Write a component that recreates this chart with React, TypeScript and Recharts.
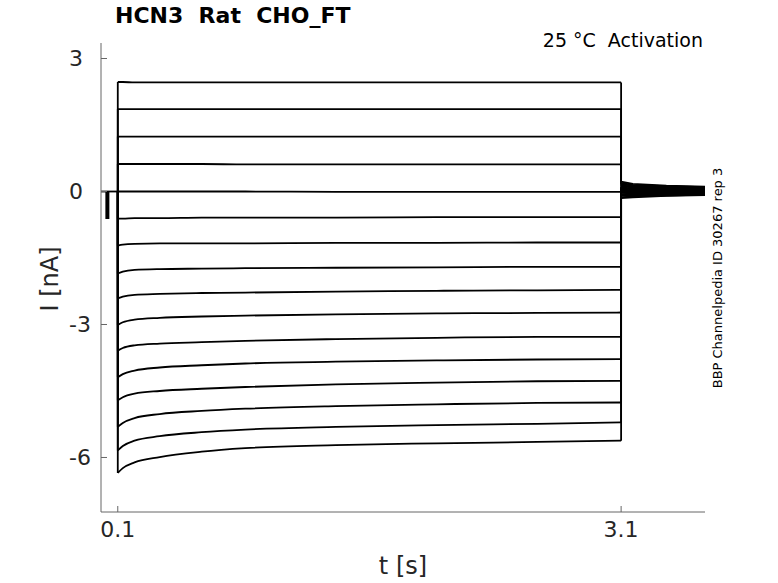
import { LineChart, Line, XAxis, YAxis } from 'recharts';

// time points (s) read along the voltage step, and along the tail after it
const stepTimes = [0.1, 0.13, 0.2, 0.35, 0.6, 0.86, 1.4, 2.0, 2.6, 3.1];
const tailTimes = [3.1, 3.17, 3.37, 3.6];

// current (nA) of each sweep during the step, top sweep first
const stepCurrents = [
  [2.47, 2.47, 2.46, 2.46, 2.46, 2.46, 2.46, 2.46, 2.46, 2.46],
  [1.86, 1.86, 1.86, 1.86, 1.86, 1.86, 1.86, 1.86, 1.86, 1.86],
  [1.24, 1.24, 1.24, 1.24, 1.24, 1.24, 1.24, 1.24, 1.24, 1.24],
  [0.62, 0.62, 0.62, 0.62, 0.62, 0.61, 0.61, 0.61, 0.61, 0.61],
  [0.0, 0.0, 0.0, 0.0, 0.0, 0.0, -0.01, -0.01, -0.01, -0.01],
  [-0.61, -0.61, -0.6, -0.6, -0.59, -0.59, -0.59, -0.58, -0.58, -0.58],
  [-1.22, -1.2, -1.18, -1.17, -1.17, -1.17, -1.16, -1.16, -1.15, -1.15],
  [-1.85, -1.81, -1.77, -1.75, -1.74, -1.73, -1.72, -1.71, -1.7, -1.7],
  [-2.41, -2.37, -2.33, -2.31, -2.29, -2.28, -2.26, -2.24, -2.23, -2.22],
  [-3.01, -2.95, -2.89, -2.85, -2.82, -2.8, -2.77, -2.75, -2.74, -2.73],
  [-3.59, -3.53, -3.47, -3.43, -3.4, -3.37, -3.33, -3.3, -3.28, -3.28],
  [-4.19, -4.12, -4.04, -3.97, -3.92, -3.88, -3.84, -3.81, -3.79, -3.78],
  [-4.71, -4.64, -4.56, -4.5, -4.45, -4.41, -4.35, -4.31, -4.28, -4.27],
  [-5.31, -5.22, -5.11, -5.02, -4.95, -4.9, -4.84, -4.8, -4.77, -4.76],
  [-5.84, -5.74, -5.62, -5.52, -5.43, -5.37, -5.31, -5.27, -5.24, -5.21],
  [-6.35, -6.24, -6.11, -5.99, -5.87, -5.79, -5.72, -5.68, -5.65, -5.62],
];

// tail current (nA) of each sweep back at holding potential
const tailCurrents = [
  [0.22, 0.17, 0.13, 0.11],
  [0.19, 0.15, 0.12, 0.1],
  [0.17, 0.13, 0.1, 0.08],
  [0.14, 0.11, 0.08, 0.07],
  [0.12, 0.09, 0.07, 0.05],
  [0.09, 0.07, 0.05, 0.04],
  [0.07, 0.05, 0.03, 0.02],
  [0.04, 0.03, 0.02, 0.01],
  [0.02, 0.01, 0.0, 0.0],
  [-0.01, -0.01, -0.01, -0.01],
  [-0.03, -0.03, -0.02, -0.02],
  [-0.06, -0.05, -0.04, -0.03],
  [-0.08, -0.07, -0.05, -0.04],
  [-0.1, -0.09, -0.07, -0.05],
  [-0.13, -0.11, -0.09, -0.07],
  [-0.15, -0.13, -0.1, -0.08],
];

// holding before the step, and the capacitive spike
const holdingTimes = [0, 0.1];
const holdingCurrents = [0, 0];
const spikeTimes = [0.038, 0.038];
const spikeCurrents = [0, -0.62];

const xTicks = [0.1, 3.1];
const yTicks = [3, 0, -3, -6];

const font = 'DejaVu Sans, sans-serif';
const xTickStyle = { fontSize: 22, fill: '#262626', fontFamily: font };
const yTickStyle = { fontSize: 22, fill: '#262626', fontFamily: font, textAnchor: 'start' };

const stepData = stepCurrents.map((step) => stepTimes.map((t, k) => ({ t, i: step[k] })));
// vertical edges at step onset (from holding) and at step end (into tail)
const onsetData = stepCurrents.map((step) => [{ t: stepTimes[0], i: 0 }, { t: stepTimes[0], i: step[0] }]);
const tailData = stepCurrents.map((step, s) => [
  { t: tailTimes[0], i: step[step.length - 1] },
  ...tailTimes.map((t, k) => ({ t, i: tailCurrents[s][k] })),
]);
const holding = holdingTimes.map((t, k) => ({ t, i: holdingCurrents[k] }));
const spike = spikeTimes.map((t, k) => ({ t, i: spikeCurrents[k] }));

const App = () => {
  return (
    <div style={{ position: 'absolute', left: 0, top: 0, width: 778, height: 583, background: '#fff' }}>
      <LineChart width={778} height={583} margin={{ top: 43, right: 73, bottom: 70, left: 100 }}>
        <XAxis
          dataKey="t"
          type="number"
          domain={[0, 3.6]}
          ticks={xTicks}
          height={1}
          tickSize={-6}
          tickMargin={15}
          stroke="#666"
          tick={xTickStyle}
          allowDataOverflow
        />
        <YAxis
          dataKey="i"
          type="number"
          domain={[-7.23, 3.35]}
          ticks={yTicks}
          width={1}
          tickSize={-6}
          tickMargin={38}
          stroke="#666"
          tick={yTickStyle}
          allowDataOverflow
        />
        <Line data={holding} dataKey="i" stroke="#000" strokeWidth={1.8} dot={false} isAnimationActive={false} />
        <Line data={spike} dataKey="i" stroke="#000" strokeWidth={4} dot={false} isAnimationActive={false} />
        {onsetData.map((d, s) => (
          <Line key={'o' + s} data={d} dataKey="i" stroke="#000" strokeWidth={1.8} dot={false} isAnimationActive={false} />
        ))}
        {stepData.map((d, s) => (
          <Line
            key={'s' + s}
            data={d}
            dataKey="i"
            type="monotone"
            stroke="#000"
            strokeWidth={1.8}
            dot={false}
            isAnimationActive={false}
          />
        ))}
        {tailData.map((d, s) => (
          <Line key={'t' + s} data={d} dataKey="i" stroke="#000" strokeWidth={1.8} dot={false} isAnimationActive={false} />
        ))}
      </LineChart>

      <div style={{ position: 'absolute', left: 115, top: 3, fontFamily: font, fontWeight: 'bold', fontSize: 22, whiteSpace: 'pre', color: '#000' }}>
        {'HCN3  Rat  CHO_FT'}
      </div>
      <div style={{ position: 'absolute', right: 75, top: 29, fontFamily: font, fontSize: 19, whiteSpace: 'pre', color: '#000' }}>
        {'25 °C  Activation'}
      </div>
      <div style={{ position: 'absolute', left: 403, top: 566, transform: 'translate(-50%, -50%)', fontFamily: font, fontSize: 24, color: '#262626', whiteSpace: 'pre' }}>
        {'t [s]'}
      </div>
      <div style={{ position: 'absolute', left: 50, top: 279, transform: 'translate(-50%, -50%) rotate(-90deg)', fontFamily: font, fontSize: 24, color: '#262626', whiteSpace: 'pre' }}>
        {'I [nA]'}
      </div>
      <div style={{ position: 'absolute', left: 717, top: 278, transform: 'translate(-50%, -50%) rotate(-90deg)', fontFamily: font, fontSize: 13, color: '#000', whiteSpace: 'pre' }}>
        {'BBP Channelpedia ID 30267 rep 3'}
      </div>
    </div>
  );
};

export default App;
